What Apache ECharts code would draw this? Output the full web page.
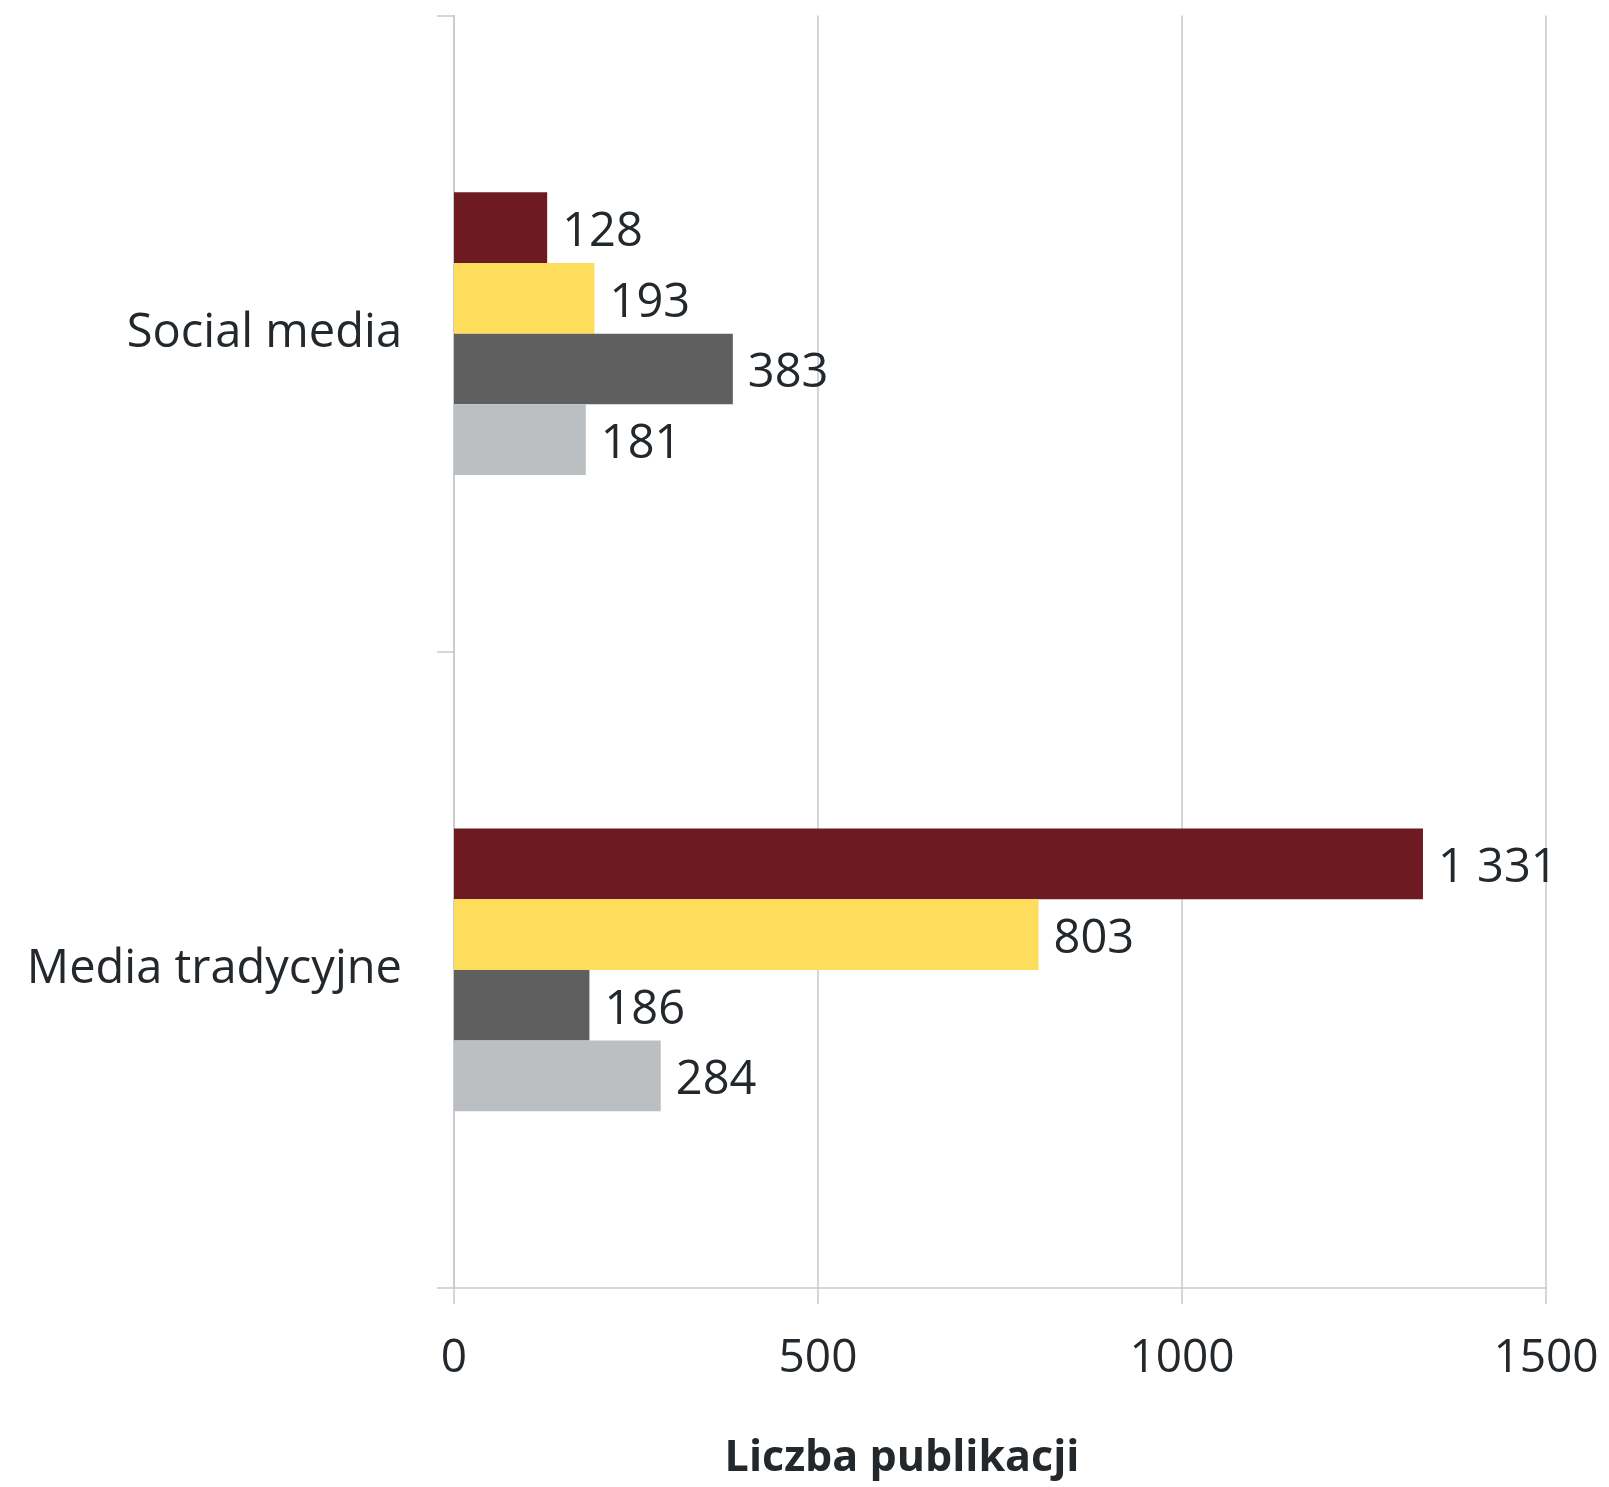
<!DOCTYPE html>
<html>
<head>
<meta charset="utf-8">
<script src="https://cdn.jsdelivr.net/npm/echarts@6/dist/echarts.min.js"></script>
<style>
html,body{margin:0;padding:0;background:#fff;}
#chart{width:1609px;height:1487px;}
</style>
</head>
<body>
<div id="chart"></div>
<script>
const categories = ['Social media', 'Media tradycyjne'];
const seriesNames = ['Seria 1', 'Seria 2', 'Seria 3', 'Seria 4'];
const series1 = [128, 1331];
const series2 = [193, 803];
const series3 = [383, 186];
const series4 = [181, 284];
const xTicks = [0, 500, 1000, 1500];
const axisTitle = 'Liczba publikacji';

const colors = ['#6d1a22', '#ffdd5c', '#5f5f5f', '#bcbfc1'];
const textColor = '#23282c';
const lineColor = '#c6c9cc';
const FONT = '"Open Sans", "Noto Sans", sans-serif';

function fmt(v) {
  return String(v).replace(/\B(?=(\d{3})+(?!\d))/g, ' ');
}

const allData = [series1, series2, series3, series4];

const chart = echarts.init(document.getElementById('chart'), null, {renderer: 'canvas'});
chart.setOption({
  animation: false,
  backgroundColor: '#ffffff',
  grid: {left: 454, right: 63, top: 15.5, bottom: 199, containLabel: false},
  xAxis: {
    type: 'value',
    min: xTicks[0],
    max: xTicks[xTicks.length - 1],
    interval: 500,
    axisLine: {show: true, lineStyle: {color: lineColor, width: 1.5}},
    axisTick: {show: true, length: 16, lineStyle: {color: lineColor, width: 1.5}},
    splitLine: {show: true, lineStyle: {color: lineColor, width: 1.5}},
    axisLabel: {margin: 48, color: textColor, fontSize: 46, fontFamily: FONT, formatter: v => String(v)}
  },
  yAxis: {
    type: 'category',
    data: categories,
    inverse: true,
    axisLine: {show: true, lineStyle: {color: lineColor, width: 1.5}},
    axisTick: {show: true, length: 17, lineStyle: {color: lineColor, width: 1.5}},
    axisLabel: {margin: 52, color: textColor, fontSize: 47, fontFamily: FONT, padding: [6, 0, 0, 0]}
  },
  graphic: [{
    type: 'text',
    x: 902,
    y: 1459,
    style: {
      text: axisTitle,
      fill: textColor,
      font: 'bold 43px ' + FONT,
      textAlign: 'center',
      textVerticalAlign: 'middle'
    }
  }],
  series: allData.map((d, i) => ({
    name: seriesNames[i],
    type: 'bar',
    data: d,
    barWidth: 70.7,
    barGap: '0%',
    itemStyle: {color: colors[i]},
    label: {
      show: true,
      position: 'right',
      distance: 15,
      offset: [0, 5],
      color: textColor,
      fontSize: 47,
      fontFamily: FONT,
      formatter: p => fmt(p.value)
    }
  }))
});
</script>
</body>
</html>
